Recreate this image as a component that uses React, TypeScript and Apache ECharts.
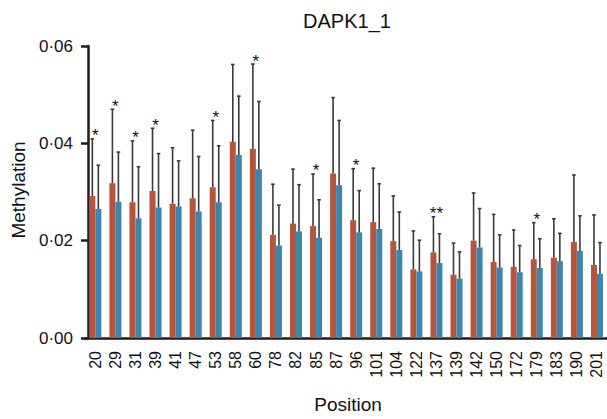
import React, { useEffect, useRef } from "react";
import * as echarts from "echarts";

const positions = ["20", "29", "31", "39", "41", "47", "53", "58", "60", "78", "82", "85", "87", "96", "101", "104", "122", "137", "139", "142", "150", "172", "179", "183", "190", "201"];

const redMean = [0.0292, 0.0318, 0.0279, 0.0302, 0.0276, 0.0287, 0.0310, 0.0403, 0.0389, 0.0212, 0.0235, 0.0230, 0.0338, 0.0242, 0.0238, 0.0199, 0.0141, 0.0176, 0.0130, 0.0200, 0.0156, 0.0146, 0.0162, 0.0165, 0.0197, 0.0150];
const redSD = [0.0117, 0.0152, 0.0126, 0.0129, 0.0115, 0.0140, 0.0137, 0.0159, 0.0174, 0.0104, 0.0112, 0.0107, 0.0156, 0.0106, 0.0111, 0.0093, 0.0079, 0.0073, 0.0065, 0.0098, 0.0098, 0.0076, 0.0075, 0.0080, 0.0138, 0.0103];

const blueMean = [0.0265, 0.0280, 0.0246, 0.0268, 0.0270, 0.0260, 0.0279, 0.0376, 0.0347, 0.0190, 0.0219, 0.0206, 0.0314, 0.0217, 0.0224, 0.0181, 0.0137, 0.0154, 0.0122, 0.0186, 0.0145, 0.0135, 0.0144, 0.0158, 0.0179, 0.0132];
const blueSD = [0.0090, 0.0102, 0.0106, 0.0111, 0.0094, 0.0113, 0.0116, 0.0121, 0.0139, 0.0083, 0.0096, 0.0078, 0.0133, 0.0086, 0.0093, 0.0078, 0.0064, 0.0060, 0.0055, 0.0080, 0.0067, 0.0055, 0.0060, 0.0057, 0.0072, 0.0064];

const stars = ["*", "*", "*", "*", "", "", "*", "", "*", "", "", "*", "", "*", "", "", "", "**", "", "", "", "", "*", "", "", ""];

const yTicks = { min: 0, max: 0.06, interval: 0.02 };

const FONT = '"Liberation Sans", Arial, Helvetica, sans-serif';
const RED = "#b4553c";
const BLUE = "#3b85ae";
const AXIS = "#1e1e1e";
const ERR = "#3a3a3a";
const BAR_W = 6;

function errorSeries(mean: number[], sd: number[], offset: number) {
  return {
    type: "custom",
    z: 5,
    silent: true,
    data: mean.map((m, i) => [i, m, m + sd[i]]),
    encode: { x: 0, y: [1, 2] },
    renderItem: (params: any, api: any) => {
      const i = api.value(0);
      const lo = api.coord([i, api.value(1)]);
      const hi = api.coord([i, api.value(2)]);
      const x = lo[0] + offset;
      const cap = 1.8;
      return {
        type: "group",
        children: [
          { type: "line", shape: { x1: x, y1: lo[1], x2: x, y2: hi[1] }, style: { stroke: ERR, lineWidth: 1.6 } },
          { type: "line", shape: { x1: x - cap, y1: hi[1], x2: x + cap, y2: hi[1] }, style: { stroke: ERR, lineWidth: 1.6 } },
        ],
      };
    },
  };
}

export default function App() {
  const ref = useRef<HTMLDivElement>(null);
  useEffect(() => {
    if (!ref.current) return;
    const chart = echarts.init(ref.current, undefined, { renderer: "svg" });
    const starData = stars.map((s, i) => [i, redMean[i] + redSD[i], s]).filter((d) => d[2] !== "");
    chart.setOption({
      animation: false,
      grid: { left: 85.3, top: 46, width: 526.5, height: 292, containLabel: false },
      xAxis: {
        type: "category",
        data: positions,
        boundaryGap: true,
        axisLine: { lineStyle: { color: AXIS, width: 2.5 } },
        axisTick: { alignWithLabel: true, length: 7, lineStyle: { color: AXIS, width: 2.5 } },
        axisLabel: { rotate: 90, margin: 13, fontSize: 16, color: "#111", fontFamily: FONT, interval: 0 },
        splitLine: { show: false },
      },
      yAxis: {
        type: "value",
        min: yTicks.min,
        max: yTicks.max,
        interval: yTicks.interval,
        offset: -2.7,
        axisLine: { show: true, lineStyle: { color: AXIS, width: 2.5 } },
        axisTick: { show: true, length: 7, lineStyle: { color: AXIS, width: 2.5 } },
        axisLabel: {
          margin: 15,
          fontSize: 17,
          color: "#111",
          fontFamily: FONT,
          formatter: (v: number) => v.toFixed(2).replace(".", "\u00b7"),
        },
        splitLine: { show: false },
      },
      series: [
        { type: "bar", data: redMean, barWidth: BAR_W, barGap: "0%", itemStyle: { color: RED }, z: 2 },
        { type: "bar", data: blueMean, barWidth: BAR_W, barGap: "0%", itemStyle: { color: BLUE }, z: 2 },
        errorSeries(redMean, redSD, -BAR_W / 2),
        errorSeries(blueMean, blueSD, BAR_W / 2),
        {
          type: "custom",
          z: 6,
          silent: true,
          data: starData,
          encode: { x: 0, y: 1 },
          renderItem: (params: any, api: any) => {
            const i = api.value(0);
            const p = api.coord([i, api.value(1)]);
            return {
              type: "text",
              x: p[0],
              y: p[1] - 3,
              style: {
                text: starData[params.dataIndex][2],
                fill: "#111",
                font: `17px ${FONT}`,
                textAlign: "center",
                textVerticalAlign: "middle",
              },
            };
          },
        },
      ],
      graphic: [
        { type: "text", x: 347, y: 21, style: { text: "DAPK1_1", font: `20px ${FONT}`, fill: "#111", textAlign: "center", textVerticalAlign: "middle" } },
        { type: "text", x: 348, y: 404, style: { text: "Position", font: `19px ${FONT}`, fill: "#111", textAlign: "center", textVerticalAlign: "middle" } },
        { type: "text", x: 18, y: 190, rotation: Math.PI / 2, style: { text: "Methylation", font: `19px ${FONT}`, fill: "#111", textAlign: "center", textVerticalAlign: "middle" } },
      ],
    });
    return () => chart.dispose();
  }, []);
  return <div ref={ref} style={{ position: "absolute", left: 0, top: 0, width: 607, height: 419 }} />;
}
